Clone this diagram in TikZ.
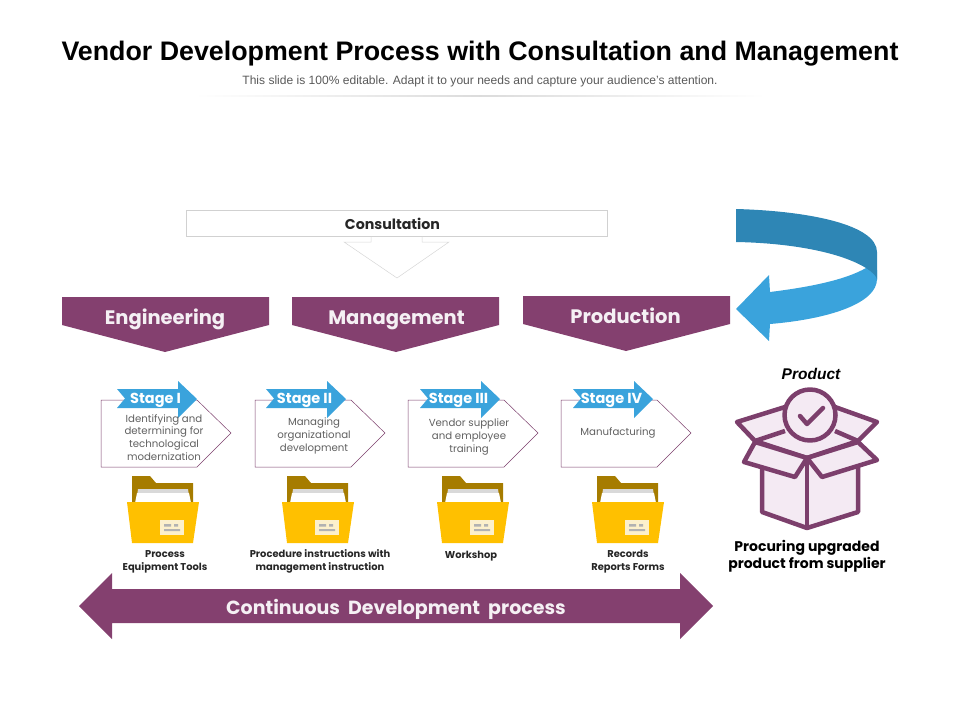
\documentclass[tikz,border=0pt]{standalone}
\usepackage{fontspec}
\setmainfont{Liberation Sans}
\newfontfamily\gothic{Poppins}
\usetikzlibrary{positioning}
\definecolor{plum}{HTML}{84406F}
\definecolor{plumline}{HTML}{7C3F6C}
\definecolor{plumpale}{HTML}{F4EAF3}
\definecolor{darkblue}{HTML}{2E86B5}
\definecolor{lightblue}{HTML}{3AA3DC}
\definecolor{folderback}{HTML}{A67C00}
\definecolor{folderfront}{HTML}{FFC000}
\tikzstyle{banner} = [fill=plum, draw=none]
\tikzstyle{bannertext} = [anchor=base, text=white!92!plum, font=\gothic\fontsize{19.5}{19.5}\selectfont\bfseries]
\tikzstyle{stagebox} = [draw=plumline, line width=0.5pt, fill=white]
\tikzstyle{stagearrow} = [fill=lightblue, draw=none]
\tikzstyle{stagetext} = [anchor=base, text=white, font=\gothic\fontsize{14.5}{14.5}\selectfont\bfseries]
\tikzstyle{bodytext} = [text=black!62, align=center, font=\gothic\fontsize{10.2}{12.8}\selectfont]
\tikzstyle{foldertext} = [text=black!85, align=center, font=\gothic\fontsize{9.9}{12.8}\selectfont\bfseries]
\tikzstyle{boxline} = [draw=plumline, line width=4.5pt, line join=round, fill=plumpale]

\newcommand{\stageitem}[4]{
\draw[stagebox,shift={(#1,0)}] (101,400) -- (197,400) -- (231,433) -- (197,467) -- (101,467) -- cycle;
\fill[stagearrow,shift={(#2,0)}] (117,389) -- (178,389) -- (178,381) -- (197,399) -- (178,418)
	-- (178,408) -- (117,408) -- (125,398.5) -- cycle;
\node[stagetext] (#3) at (#2+155.5,403.5) {#4};
}

\newcommand{\folderitem}[2]{
\begin{scope}[shift={(#1,0)}]
\fill[folderback] (132,476) -- (150,476) -- (156,483) -- (193,483) -- (193,510) -- (132,510) -- cycle;
\fill[black!15] (138,489) -- (188,489) -- (190,503) -- (136,503) -- cycle;
\fill[white] (137,493) -- (189,493) -- (191,503) -- (135,503) -- cycle;
\fill[folderfront] (127,502) -- (199,502) -- (193,543) -- (132,543) -- cycle;
\fill[black!5!folderfront!20!white] (160,520) rectangle (184,535);
\fill[black!30] (164,524) rectangle (171,526.5) (174,524) rectangle (178,526.5) (164,529) rectangle (180,531);
\end{scope}
\node[inner sep=0pt] (#2) at (#1+163,510) {};
}

\begin{document}
\begin{tikzpicture}[x=1pt,y=-1pt]
\useasboundingbox (0,0) rectangle (960,720);

% heading
\node[font=\fontsize{26.8}{26.8}\selectfont\bfseries, text=black] (heading) at (480,53.5) {Vendor Development Process with Consultation and Management};
\node[font=\fontsize{12.05}{12.05}\selectfont, text=black!65] (subheading) at (480,81) {This slide is 100\% editable. Adapt it to your needs and capture your audience's attention.};
\shade[left color=white, right color=white, middle color=black!14, draw=none] (195,95.5) rectangle (765,96.5);

% consultation
\draw[draw=black!18, line width=0.7pt] (186,210) rectangle (607,236);
\node[anchor=base, text=black!85, font=\gothic\fontsize{14.2}{14.2}\selectfont\bfseries] (consultation) at (392.5,229) {Consultation};
\draw[draw=black!16, line width=0.5pt] (371,236) -- (371,242) -- (344,242) -- (397,278) -- (449,242) -- (422,242) -- (422,236);

% three departments
\fill[banner] (62,297) -- (269,297) -- (269,325) -- (165,352) -- (62,325) -- cycle;
\node[bannertext] (engineering) at (165,324) {Engineering};
\fill[banner] (292,297) -- (499,297) -- (499,325) -- (396,352) -- (292,325) -- cycle;
\node[bannertext] (management) at (396.5,324) {Management};
\fill[banner] (523,296) -- (730,296) -- (730,324) -- (626,351) -- (523,324) -- cycle;
\node[bannertext] (production) at (625.5,323) {Production};

% curved arrow
\fill[lightblue] (866,268) .. controls (845,280) and (810,287) .. (770,292) -- (769,275) -- (736,309) -- (769,341)
	-- (770,324) .. controls (830,319) and (877,303) .. (877,279) -- (877,270) -- cycle;
\fill[darkblue] (736,209) .. controls (810,211) and (877,225) .. (877,252) -- (877,280)
	.. controls (877,276) and (872,272) .. (866,268) .. controls (840,252) and (790,243) .. (736,242) -- cycle;

% stages
\stageitem{0}{0}{stageone}{Stage I}
\stageitem{154}{149}{stagetwo}{Stage II}
\stageitem{307}{303}{stagethree}{Stage III}
\stageitem{460}{456}{stagefour}{Stage IV}

\node[bodytext] (textone) at (164,437.5) {Identifying and\\determining for\\technological\\modernization};
\node[bodytext] (texttwo) at (314,436) {Managing\\organizational\\development};
\node[bodytext] (textthree) at (469,437) {Vendor supplier\\and employee\\training};
\node[bodytext] (textfour) at (618,432.5) {Manufacturing};

% folders
\folderitem{0}{folderone}
\folderitem{155}{foldertwo}
\folderitem{310}{folderthree}
\folderitem{465}{folderfour}

\node[foldertext] (toolsone) at (165,561.5) {Process\\Equipment Tools};
\node[foldertext] (toolstwo) at (320,561.5) {Procedure instructions with\\management instruction};
\node[foldertext] (toolsthree) at (471,556) {Workshop};
\node[foldertext] (toolsfour) at (628,561.5) {Records\\Reports Forms};

% bottom arrow
\fill[banner] (79,606) -- (112,573) -- (112,589) -- (680,589) -- (680,573) -- (713,606) -- (680,639) -- (680,623) -- (112,623) -- (112,639) -- cycle;
\node[bannertext, font=\gothic\fontsize{19}{19}\selectfont\bfseries] (continuous) at (396,614) {Continuous\ \ Development\ \ process};

% product
\node[font=\fontsize{15.5}{15.5}\selectfont\bfseries\itshape] (product) at (811,373.5) {Product};
\draw[boxline] (755,441) -- (737,422) -- (785,407) -- (835,407) -- (877,422) -- (858,441) -- (807,458) -- cycle;
\draw[boxline] (755,441) -- (785,431) (858,441) -- (835,431);
\draw[boxline] (762,455) -- (762,512) -- (807,528) -- (858,512) -- (858,455) -- (807,458) -- cycle;
\draw[boxline] (807,458) -- (807,528);
\draw[boxline] (755,442) -- (744,462) -- (795,477) -- (807,458) -- cycle;
\draw[boxline] (858,442) -- (877,460) -- (822,477) -- (807,458) -- cycle;
\draw[boxline] (810,415) circle (25.5);
\draw[draw=plumline, line width=4.5pt, line cap=round, line join=round] (800,416) -- (807,424) -- (823,408);

\node[text=black, align=center, font=\gothic\fontsize{14}{17.5}\selectfont\bfseries] (procuring) at (807,556) {Procuring upgraded\\product from supplier};

\end{tikzpicture}
\end{document}
